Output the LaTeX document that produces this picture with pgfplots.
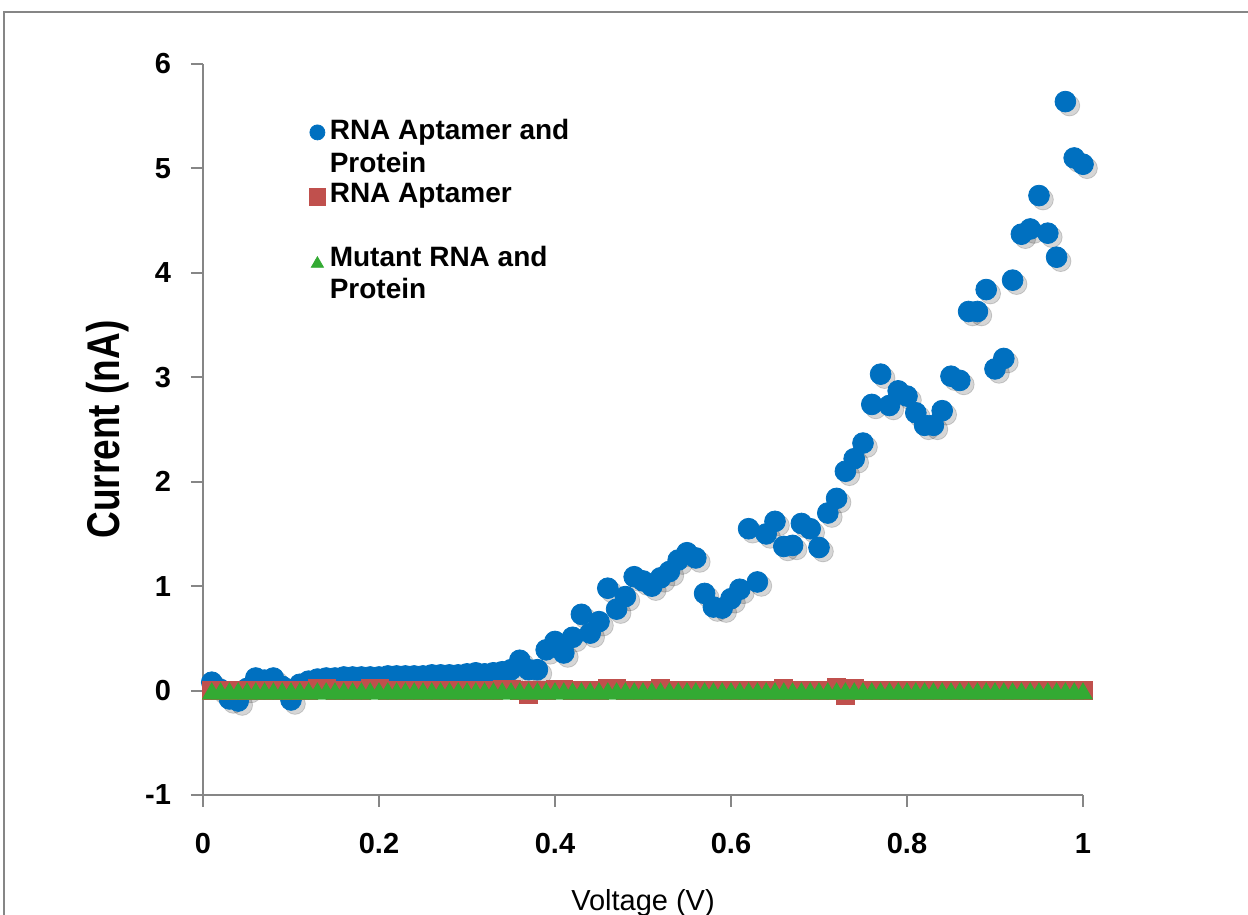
\documentclass[border=0pt]{standalone}
\usepackage{pgfplots}
\usepackage{pgfplotstable}
\pgfplotsset{compat=1.18}
\usepackage{fontspec}
\setmainfont{Liberation Sans}
\usepackage{graphicx}
\definecolor{cblue}{RGB}{0,112,192}
\definecolor{cred}{RGB}{192,80,77}
\definecolor{cgreen}{RGB}{51,170,51}
\definecolor{cgray}{RGB}{134,134,134}
\pgfplotstableread{
x b r g
0.01 0.08 0 0
0.02 0.01 0 0
0.03 -0.08 0 0
0.04 -0.10 0 0
0.05 0.02 0 0
0.06 0.12 0 0
0.07 0.10 0 0
0.08 0.12 0 0
0.09 0.04 0 0
0.10 -0.09 0 0
0.11 0.06 0 0
0.12 0.09 0 0
0.13 0.11 0.02 0
0.14 0.12 0.02 0
0.15 0.12 0 0
0.16 0.13 0 0
0.17 0.13 0 0
0.18 0.13 0 0
0.19 0.13 0.02 0
0.20 0.13 0.02 0
0.21 0.14 0 0
0.22 0.14 0 0
0.23 0.14 0 0
0.24 0.14 0 0
0.25 0.14 0 0
0.26 0.15 0 0
0.27 0.15 0 0
0.28 0.15 0 0
0.29 0.15 0 0
0.30 0.16 0 0
0.31 0.17 0 0
0.32 0.16 0 0
0.33 0.17 0 0
0.34 0.18 0.01 0
0.35 0.20 0.01 0
0.36 0.29 0 0
0.37 0.20 -0.04 0
0.38 0.20 0 0
0.39 0.39 0 0
0.40 0.47 0.01 0
0.41 0.36 0.01 0
0.42 0.51 0 0
0.43 0.73 0 0
0.44 0.55 0 0
0.45 0.66 0 0
0.46 0.98 0.02 0
0.47 0.78 0.02 0
0.48 0.90 0 0
0.49 1.09 0 0
0.50 1.05 0 0
0.51 1.00 0 0
0.52 1.08 0.02 0
0.53 1.14 0 0
0.54 1.25 0 0
0.55 1.32 0 0
0.56 1.27 0 0
0.57 0.93 0 0
0.58 0.80 0 0
0.59 0.79 0 0
0.60 0.88 0 0
0.61 0.97 0 0
0.62 1.55 0 0
0.63 1.04 0 0
0.64 1.50 0 0
0.65 1.62 0 0
0.66 1.38 0.02 0
0.67 1.39 0 0
0.68 1.60 0 0
0.69 1.55 0 0
0.70 1.37 0 0
0.71 1.70 0 0
0.72 1.84 0.03 0
0.73 2.10 -0.05 0
0.74 2.22 0.02 0
0.75 2.37 0 0
0.76 2.74 0 0
0.77 3.03 0 0
0.78 2.73 0 0
0.79 2.87 0 0
0.80 2.82 0 0
0.81 2.66 0 0
0.82 2.54 0 0
0.83 2.54 0 0
0.84 2.68 0 0
0.85 3.01 0 0
0.86 2.97 0 0
0.87 3.63 0 0
0.88 3.63 0 0
0.89 3.84 0 0
0.90 3.08 0 0
0.91 3.18 0 0
0.92 3.93 0 0
0.93 4.37 0 0
0.94 4.42 0 0
0.95 4.74 0 0
0.96 4.38 0 0
0.97 4.15 0 0
0.98 5.64 0 0
0.99 5.10 0 0
1.00 5.04 0 0
}\data
\begin{document}
\begin{tikzpicture}
\begin{axis}[
  name=ax,
  scale only axis, width=440pt, height=365.5pt,
  xmin=0, xmax=1, ymin=-1, ymax=6,
  clip=false,
  axis x line*=bottom, axis y line*=left,
  axis line style={cgray, line width=1pt},
  tick style={cgray, line width=1pt},
  tick align=outside, major tick length=6pt,
  xtick={0,0.2,0.4,0.6,0.8,1},
  xticklabels={0,0.2,0.4,0.6,0.8,1},
  ytick={-1,0,1,2,3,4,5,6},
  yticklabels={-1,0,1,2,3,4,5,6},
  xticklabel style={font=\bfseries\fontsize{14.5pt}{16pt}\selectfont, yshift=-9.5pt},
  yticklabel style={font=\bfseries\fontsize{14.5pt}{16pt}\selectfont, xshift=-6.5pt},
  xlabel={Voltage (V)},
  xlabel style={at={(axis description cs:0.5,0)}, anchor=base, yshift=-58pt,
    font=\fontsize{14.5pt}{16pt}\selectfont},
  ylabel={\scalebox{1}[1.24]{Current (nA)}},
  ylabel style={at={(axis description cs:-0.108,0.5)}, anchor=center,
    font=\bfseries\fontsize{18.5pt}{20pt}\selectfont},
  legend style={at={(rel axis cs:0.12,0.93)}, anchor=north west, draw=none, fill=none,
    font=\bfseries\fontsize{14pt}{16.2pt}\selectfont,
    cells={anchor=west, align=left}, row sep=0pt, inner sep=0pt},
  legend image code/.code={\draw[#1] plot coordinates {(0.15cm,0cm)};},
]
\addplot[only marks, mark=*, mark size=5.2pt, color=black, opacity=0.16,
  mark options={draw=none, fill=black, xshift=2pt, yshift=-2pt}, forget plot] table[x=x, y=b] {\data};
\addplot[only marks, mark=*, mark size=5.2pt, color=cblue,
  mark options={draw=none, fill=cblue},
  legend image post style={mark size=3.75pt, yshift=7.5pt}] table[x=x, y=b] {\data};
\addplot[only marks, mark=square*, mark size=4.5pt, color=cred,
  mark options={draw=none, fill=cred},
  legend image post style={mark size=4.2pt, yshift=7pt}] table[x=x, y=r] {\data};
\addplot[only marks, mark=triangle*, mark size=5.3pt, color=cgreen,
  mark options={draw=none, fill=cgreen, yshift=-1.5pt},
  legend image post style={mark size=3.5pt, yshift=6.5pt}] table[x=x, y=g] {\data};
\legend{{RNA Aptamer and\\Protein},{RNA Aptamer\\\mbox{}},{Mutant RNA and\\Protein}}
\end{axis}
\pgfresetboundingbox
\path[use as bounding box] ([shift={(-101.5pt,-60pt)}]ax.south west) rectangle ([shift={(82.5pt,32pt)}]ax.north east);
\draw[cgray, line width=1pt] ([shift={(-99.5pt,-90pt)}]ax.south west) -- ([shift={(-99.5pt,26pt)}]ax.north west) -- ([shift={(200pt,26pt)}]ax.north east);
\end{tikzpicture}
\end{document}
